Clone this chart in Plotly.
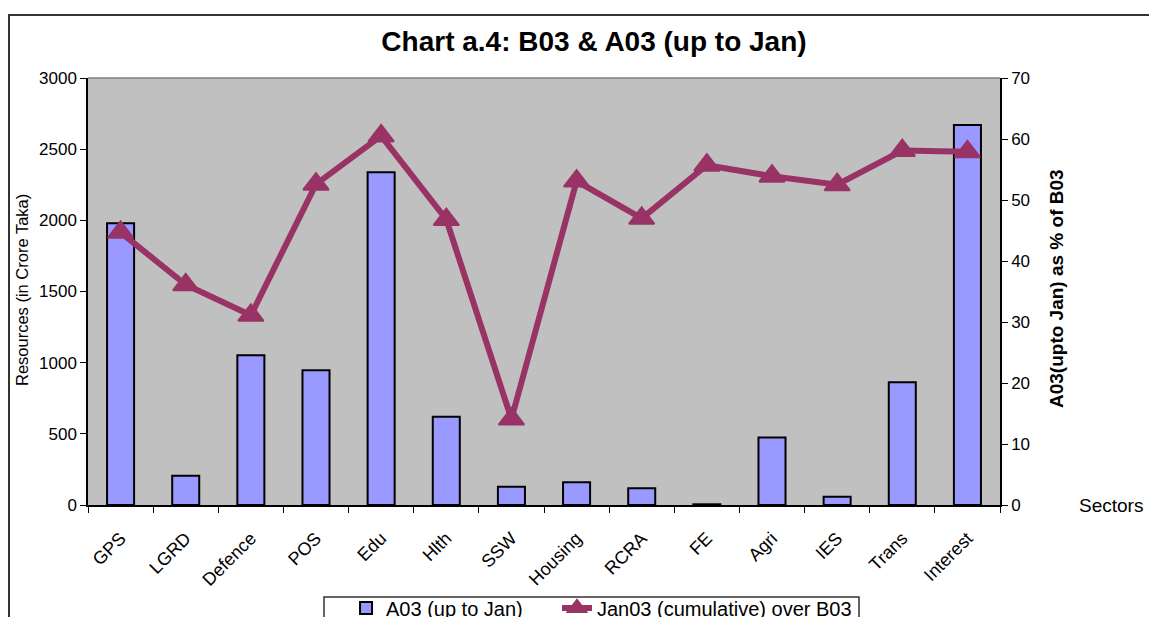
import plotly.graph_objects as go

sectors = ["GPS", "LGRD", "Defence", "POS", "Edu", "Hlth", "SSW", "Housing",
           "RCRA", "FE", "Agri", "IES", "Trans", "Interest"]
a03_up_to_jan = [1980, 206, 1052, 946, 2337, 620, 129, 159, 117, 5, 475, 58, 862, 2670]
pct_of_b03 = [44.7, 36.1, 31.1, 52.6, 60.5, 46.8, 14.1, 53.1, 47.0, 55.7, 53.9, 52.5, 58.1, 57.9]

FONT = "Liberation Sans, Arial, sans-serif"
OFF = 8  # page body margin

fig = go.Figure()
fig.add_trace(go.Bar(
    x=sectors, y=a03_up_to_jan, name="A03 (up to Jan)",
    marker=dict(color="#9999FF", line=dict(color="black", width=2)),
    yaxis="y", legend="legend",
))
fig.add_trace(go.Scatter(
    x=sectors, y=pct_of_b03, name="Jan03 (cumulative) over B03",
    mode="lines+markers",
    line=dict(color="#993366", width=6),
    marker=dict(symbol="triangle-up", size=22, color="#993366",
                line=dict(color="#993366", width=2)),
    yaxis="y2", legend="legend2",
))

W, H = 1157, 617
# plot area in page pixels: x 88..1000, y 78..505
L = 88 - OFF
T = 78 - OFF
R = W - (1000 - OFF)
B = H - (505 - OFF)
pw, ph = W - L - R, H - T - B

def px_x(px):
    return (px - OFF - L) / pw

def px_y(py):
    return (H - B - (py - OFF)) / ph

legend_common = dict(
    orientation="h", xanchor="left",
    y=px_y(608), yanchor="middle",
    bgcolor="rgba(0,0,0,0)", borderwidth=0,
    font=dict(size=20, family=FONT, color="black"),
)

fig.update_layout(
    width=W, height=H,
    margin=dict(l=L, r=R, t=T, b=B, autoexpand=False),
    paper_bgcolor="white",
    plot_bgcolor="#C0C0C0",
    font=dict(family=FONT, size=17, color="black"),
    bargap=0.585,
    title=dict(text="<b>Chart a.4: B03 &amp; A03 (up to Jan)</b>",
               x=(594 - OFF) / W, xref="container", xanchor="center",
               y=1 - (41 - OFF) / H, yref="container", yanchor="middle",
               font=dict(size=28, family=FONT, color="black")),
    xaxis=dict(
        type="category", range=[-0.5, len(sectors) - 0.5],
        showgrid=False, zeroline=False,
        showline=True, linecolor="black", linewidth=1.5,
        ticks="outside", tickson="boundaries", ticklen=6, tickcolor="black",
        tickangle=-45, tickfont=dict(size=18), ticklabelstandoff=14,
    ),
    yaxis=dict(
        range=[0, 3000], dtick=500, showgrid=False, zeroline=False,
        showline=True, linecolor="black", linewidth=1.5,
        ticks="outside", ticklen=6, tickcolor="black",
        tickfont=dict(size=17),
    ),
    yaxis2=dict(
        range=[0, 70], dtick=10, overlaying="y", side="right",
        showgrid=False, zeroline=False,
        showline=True, linecolor="black", linewidth=1.5,
        ticks="outside", ticklen=6, tickcolor="black",
        tickfont=dict(size=17),
    ),
    legend=dict(x=px_x(346), **legend_common),
    legend2=dict(x=px_x(557), **legend_common),
    showlegend=True,
)

# plot-area top border
fig.add_shape(type="line", xref="paper", yref="paper",
              x0=0, x1=1, y0=1, y1=1, line=dict(color="#808080", width=1.5))
# chart outer border
fig.add_shape(type="rect", xref="paper", yref="paper",
              x0=px_x(9), x1=px_x(1180), y0=px_y(15), y1=px_y(660),
              line=dict(color="#333333", width=2), layer="below")
# legend box
fig.add_shape(type="rect", xref="paper", yref="paper",
              x0=px_x(324), x1=px_x(859), y0=px_y(597), y1=px_y(640),
              line=dict(color="#333333", width=1.5), fillcolor="white", layer="below")

fig.add_annotation(text="Resources (in Crore Taka)", xref="paper", yref="paper",
                   x=px_x(22), y=px_y(290), textangle=-90, showarrow=False,
                   font=dict(size=16.5, family=FONT), xanchor="center", yanchor="middle")
fig.add_annotation(text="<b>A03(upto Jan) as % of B03</b>", xref="paper", yref="paper",
                   x=px_x(1056), y=px_y(289), textangle=-90, showarrow=False,
                   font=dict(size=19, family=FONT), xanchor="center", yanchor="middle")
fig.add_annotation(text="Sectors", xref="paper", yref="paper",
                   x=px_x(1111), y=px_y(505), showarrow=False,
                   font=dict(size=19, family=FONT), xanchor="center", yanchor="middle")

fig.write_html("out.html")
